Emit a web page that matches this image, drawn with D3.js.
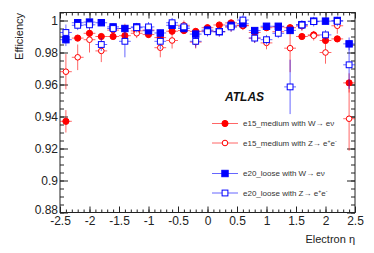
<!DOCTYPE html>
<html>
<head>
<meta charset="utf-8">
<script src="https://cdn.jsdelivr.net/npm/d3@7"></script>
<style>
  body { margin: 0; background: #fff; }
  svg { display: block; font-family: "Liberation Sans", Arial, sans-serif; }
  .axis path { display: none; }
  .axis line { stroke: #222; stroke-width: 1; }
  .axis text { fill: #222; font-size: 12px; }
</style>
</head>
<body>
<svg width="374" height="253"></svg>
<script>
"use strict";

// bin centres in eta
const eta = [-2.4, -2.2, -2.0, -1.8, -1.6, -1.4, -1.2, -1.0, -0.8, -0.6, -0.4, -0.2, 0.0,
             0.2, 0.4, 0.6, 0.8, 1.0, 1.2, 1.4, 1.6, 1.8, 2.0, 2.2, 2.4];
const binHalf = 0.1;

// e15_medium, W -> e nu
const e15W    = [0.937, 0.989, 0.992, 0.990, 0.990, 0.9905, 0.9935, 0.9912, 0.9893, 0.9933, 0.9937, 0.9932, 0.9955,
                 0.9972, 0.9985, 0.9967, 0.9925, 0.9955, 0.996, 0.9955, 0.990, 0.991, 0.9875, 0.9885, 0.961];
const e15WErr = [0.007, 0.002, 0.002, 0.002, 0.002, 0.002, 0.002, 0.002, 0.002, 0.002, 0.002, 0.002, 0.002,
                 0.002, 0.002, 0.002, 0.002, 0.002, 0.002, 0.002, 0.002, 0.002, 0.002, 0.002, 0.006];
// e15_medium, Z -> ee
const e15Z    = [0.968, 0.977, 0.988, 0.981, 0.994, 0.995, 0.992, 0.994, 0.983, 0.9875, 0.997, 0.9865, 0.9935,
                 0.993, 0.996, 0.997, 0.989, 0.986, 0.993, 0.9827, 0.9965, 0.9905, 0.980, 0.9967, 0.9386];
const e15ZErr = [0.011, 0.008, 0.008, 0.007, 0.003, 0.003, 0.003, 0.003, 0.006, 0.005, 0.003, 0.004, 0.003,
                 0.003, 0.003, 0.003, 0.003, 0.004, 0.003, 0.015, 0.003, 0.003, 0.007, 0.005, 0.02];
// e20_loose, W -> e nu
const e20W    = [0.988, 0.9986, 0.999, 0.9986, 0.996, 0.995, 0.996, 0.9936, 0.9922, 0.997, 0.995, 0.9915, 0.994,
                 0.993, 0.997, 0.998, 0.9937, 0.9964, 0.9964, 0.9938, 0.9974, 0.9996, 0.9996, 1.000, 0.9854];
const e20WErr = [0.004, 0.002, 0.002, 0.002, 0.002, 0.002, 0.002, 0.002, 0.002, 0.002, 0.002, 0.002, 0.002,
                 0.002, 0.002, 0.002, 0.002, 0.002, 0.002, 0.002, 0.002, 0.002, 0.002, 0.002, 0.004];
// e20_loose, Z -> ee
const e20Z    = [0.9925, 0.997, 0.9973, 0.985, 0.995, 0.987, 0.9955, 0.996, 0.987, 0.9986, 0.996, 0.987, 0.993,
                 0.993, 0.996, 1.0003, 0.989, 0.988, 0.992, 0.9585, 0.9972, 0.9993, 0.991, 0.9995, 0.9723];
const e20ZErr = [0.005, 0.003, 0.003, 0.004, 0.003, 0.01, 0.003, 0.003, 0.005, 0.003, 0.003, 0.004, 0.003,
                 0.003, 0.003, 0.003, 0.003, 0.003, 0.003, 0.017, 0.003, 0.003, 0.003, 0.003, 0.015];

const yTicks = [0.88, 0.9, 0.92, 0.94, 0.96, 0.98, 1];
const yTickLabels = ["0.88", "0.9", "0.92", "0.94", "0.96", "0.98", "1"];
const xTicks = [-2.5, -2, -1.5, -1, -0.5, 0, 0.5, 1, 1.5, 2, 2.5];
const xTickLabels = ["-2.5", "-2", "-1.5", "-1", "-0.5", "0", "0.5", "1", "1.5", "2", "2.5"];

const series = [
  { label: ["e15_medium with W\u2192 e\u03bd"], values: e15W, errors: e15WErr, color: "#ff0000", shape: "circle", filled: true },
  { label: ["e15_medium with Z\u2192 e", "+", "e", "-"], values: e15Z, errors: e15ZErr, color: "#ff0000", shape: "circle", filled: false },
  { label: ["e20_loose with W\u2192 e\u03bd"], values: e20W, errors: e20WErr, color: "#0000ff", shape: "square", filled: true },
  { label: ["e20_loose with Z\u2192 e", "+", "e", "-"], values: e20Z, errors: e20ZErr, color: "#0000ff", shape: "square", filled: false }
];

var svg = d3.select("svg"),
    pLeft = 60, pRight = 355, pTop = 12.5, pBottom = 212.5;

svg.append("rect").attr("width", 374).attr("height", 253).attr("fill", "#fff");

var x = d3.scaleLinear().domain([-2.5, 2.5]).range([pLeft, pRight]),
    y = d3.scaleLinear().domain([0.88, 1.005]).range([pBottom, pTop]);

svg.append("clipPath").attr("id", "plot")
  .append("rect").attr("x", pLeft).attr("y", pTop).attr("width", pRight - pLeft).attr("height", pBottom - pTop);

// axes, ticks pointing inwards like ROOT
var yMinor = d3.range(0.88, 1.0051, 0.005),
    xMinor = d3.range(-2.5, 2.501, 0.1);

function fmt(ticks, labels) {
  return function(d) { return labels[ticks.indexOf(d)]; };
}

svg.append("g").attr("class", "axis").attr("transform", "translate(" + pLeft + ",0)")
  .call(d3.axisLeft(y).tickValues(yMinor).tickSize(-4).tickFormat(""));
var yAxisG = svg.append("g").attr("class", "axis").attr("transform", "translate(" + pLeft + ",0)")
  .call(d3.axisLeft(y).tickValues(yTicks).tickSize(-8).tickPadding(2).tickFormat(fmt(yTicks, yTickLabels)));
// lift the bottom label a touch so it clears the -2.5 below it
yAxisG.selectAll(".tick text").filter(function(d) { return d === 0.88; }).attr("dy", "0.1em");
svg.append("g").attr("class", "axis").attr("transform", "translate(" + pRight + ",0)")
  .call(d3.axisRight(y).tickValues(yMinor).tickSize(-4).tickFormat(""));
svg.append("g").attr("class", "axis").attr("transform", "translate(" + pRight + ",0)")
  .call(d3.axisRight(y).tickValues(yTicks).tickSize(-8).tickFormat(""));

svg.append("g").attr("class", "axis").attr("transform", "translate(0," + pBottom + ")")
  .call(d3.axisBottom(x).tickValues(xMinor).tickSize(-3).tickFormat(""));
svg.append("g").attr("class", "axis").attr("transform", "translate(0," + pBottom + ")")
  .call(d3.axisBottom(x).tickValues(xTicks).tickSize(-6).tickPadding(4).tickFormat(fmt(xTicks, xTickLabels)));
svg.append("g").attr("class", "axis").attr("transform", "translate(0," + pTop + ")")
  .call(d3.axisTop(x).tickValues(xMinor).tickSize(-3).tickFormat(""));
svg.append("g").attr("class", "axis").attr("transform", "translate(0," + pTop + ")")
  .call(d3.axisTop(x).tickValues(xTicks).tickSize(-6).tickFormat(""));

// frame
svg.append("rect")
  .attr("x", pLeft).attr("y", pTop).attr("width", pRight - pLeft).attr("height", pBottom - pTop)
  .attr("fill", "none").attr("stroke", "#222").attr("stroke-width", 1);

function drawMarker(g, s, cx, cy) {
  if (s.shape === "circle") {
    g.append("circle").attr("cx", cx).attr("cy", cy).attr("r", s.filled ? 3.1 : 2.8)
      .attr("fill", s.filled ? s.color : "#fff").attr("stroke", s.color).attr("stroke-width", 1);
  } else {
    var h = s.filled ? 3.2 : 2.9;
    g.append("rect").attr("x", cx - h).attr("y", cy - h).attr("width", 2 * h).attr("height", 2 * h)
      .attr("fill", s.filled ? s.color : "#fff").attr("stroke", s.color).attr("stroke-width", 1);
  }
}

var plot = svg.append("g").attr("clip-path", "url(#plot)");

series.forEach(function(s) {
  var g = plot.append("g");
  var pts = eta.map(function(e, i) { return { eta: e, v: s.values[i], err: s.errors[i] }; });

  g.selectAll("line.h").data(pts).enter().append("line")
    .attr("x1", function(d) { return x(d.eta - binHalf); })
    .attr("x2", function(d) { return x(d.eta + binHalf); })
    .attr("y1", function(d) { return y(d.v); })
    .attr("y2", function(d) { return y(d.v); })
    .attr("stroke", s.color).attr("stroke-opacity", 0.6).attr("stroke-width", 1);

  g.selectAll("line.v").data(pts).enter().append("line")
    .attr("x1", function(d) { return x(d.eta); })
    .attr("x2", function(d) { return x(d.eta); })
    .attr("y1", function(d) { return y(d.v - d.err); })
    .attr("y2", function(d) { return y(d.v + d.err); })
    .attr("stroke", s.color).attr("stroke-opacity", 0.6).attr("stroke-width", 1);

  pts.forEach(function(d) { drawMarker(g, s, x(d.eta), y(d.v)); });
});

// ATLAS label
svg.append("text").attr("x", 225).attr("y", 101)
  .style("font-size", "12px").style("font-weight", "bold").style("font-style", "italic")
  .attr("fill", "#111").text("ATLAS");

// legend
var legend = svg.append("g");
series.forEach(function(s, i) {
  var ly = 123.5 + i * 19.5 + (i >= 2 ? 11 : 0);
  legend.append("line").attr("x1", 212).attr("x2", 238).attr("y1", ly).attr("y2", ly)
    .attr("stroke", s.color).attr("stroke-opacity", 0.6).attr("stroke-width", 1);
  drawMarker(legend, s, 225, ly);
  var t = legend.append("text").attr("x", 243).attr("y", ly + 2.9)
    .style("font-size", "8px").attr("fill", "#333");
  s.label.forEach(function(part, k) {
    if (k % 2 === 1) {
      t.append("tspan").attr("dy", -3).style("font-size", "5.2px").text(part);
    } else {
      t.append("tspan").attr("dy", k > 0 ? 3 : 0).text(part);
    }
  });
});

// axis titles
svg.append("text").attr("transform", "translate(23," + (pTop + 0.5) + ") rotate(-90)")
  .attr("text-anchor", "end").style("font-size", "11px").attr("fill", "#222").text("Efficiency");
svg.append("text").attr("x", pRight).attr("y", 243)
  .attr("text-anchor", "end").style("font-size", "11px").attr("fill", "#222").text("Electron \u03b7");
</script>
</body>
</html>
